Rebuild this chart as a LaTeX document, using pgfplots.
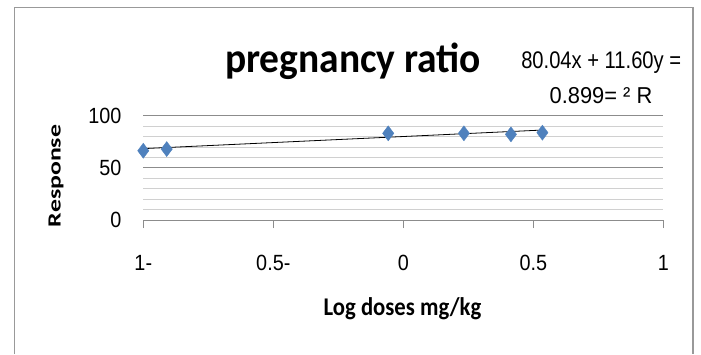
\documentclass[border=0pt]{standalone}
\usepackage{graphicx}
\usepackage{pgfplots}
\pgfplotsset{compat=1.18}
\usepackage{fontspec}
\setmainfont{Liberation Sans}
\newfontfamily\calibri{Carlito}
\definecolor{mblue}{HTML}{4F81BD}
\definecolor{majgrid}{HTML}{8C8C8C}
\definecolor{mingrid}{HTML}{D0D0D0}
\newcommand{\hs}[1]{\scalebox{0.9}[1]{#1}}
\begin{document}
\begin{tikzpicture}
\useasboundingbox (0,0) rectangle (701pt,354pt);
\draw[color=black!40, line width=1.6pt] (14.4pt,0pt) -- (14.4pt,346.5pt) -- (693pt,346.5pt) -- (693pt,0pt);
\begin{axis}[
  at={(143.3pt,134pt)}, anchor=south west,
  scale only axis, width=520pt, height=104.3pt,
  xmin=-1, xmax=1, ymin=0, ymax=100,
  axis x line*=bottom, axis y line*=left,
  x axis line style={color=majgrid, line width=0.9pt, -},
  y axis line style={draw=none},
  xtick={-1,-0.5,0,0.5,1},
  xticklabels={\hs{1-},\hs{0.5-},\hs{0},\hs{0.5},\hs{1}},
  ytick={0,50,100}, yticklabels={\hs{0},\hs{50},\hs{100}},
  minor ytick={10,20,30,40,60,70,80,90},
  ymajorgrids, yminorgrids,
  major grid style={color=majgrid, line width=0.9pt},
  minor grid style={color=mingrid, line width=0.9pt},
  xtick align=outside, major tick length=8pt, minor tick length=0pt,
  xtick style={color=majgrid, line width=0.9pt},
  ytick style={draw=none},
  tick label style={font=\fontsize{22}{26}\selectfont, inner sep=0pt},
  xticklabel style={anchor=base, yshift=-42pt},
  yticklabel style={anchor=east, xshift=-21.6pt},
  clip=false,
]
\addplot[black, line width=0.8pt] coordinates {(-1,68.44) (0.535,86.25)};
\addplot[only marks, mark=diamond*, mark size=7.5pt, mark options={fill=mblue, draw=mblue}]
  coordinates {(-1,66.4) (-0.91,68.0) (-0.058,83.1) (0.233,83.1) (0.414,82.1) (0.535,83.7)};
\end{axis}
\node[font=\calibri\bfseries\fontsize{42}{48}\selectfont, inner sep=0pt, anchor=base] at (353pt,281.3pt) {\scalebox{0.94}[1]{pregnancy ratio}};
\node[font=\fontsize{24}{28}\selectfont, inner sep=0pt, anchor=base] at (601.2pt,285pt) {\scalebox{0.84}[1]{80.04x + 11.60y =}};
\node[font=\fontsize{23}{27}\selectfont, inner sep=0pt, anchor=base] at (601pt,250.7pt) {\scalebox{0.95}[1]{0.899= ² R}};
\node[font=\calibri\bfseries\fontsize{25.8}{30}\selectfont, inner sep=0pt, rotate=90] at (56pt,178pt) {\scalebox{1}[0.72]{Response}};
\node[font=\calibri\bfseries\fontsize{25.5}{30}\selectfont, inner sep=0pt, anchor=base] at (402.5pt,39pt) {\scalebox{0.89}[1]{Log doses mg/kg}};
\end{tikzpicture}
\end{document}
